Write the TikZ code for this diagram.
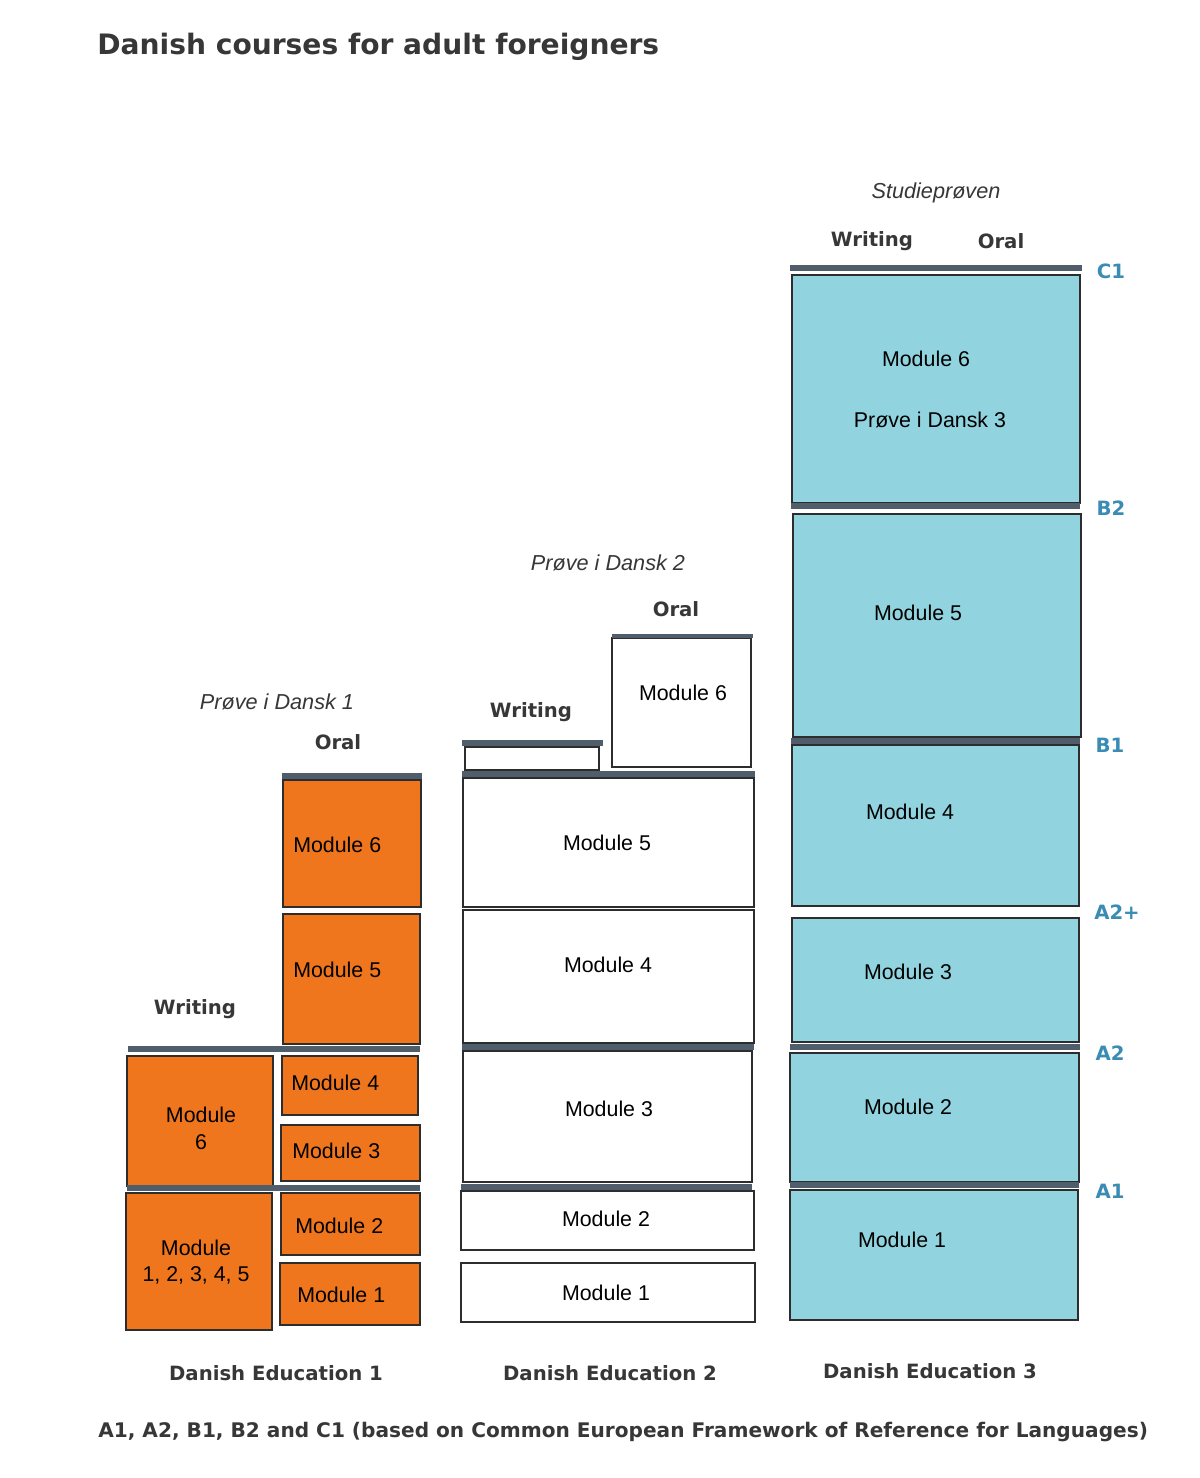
\documentclass[tikz,border=0pt]{standalone}
\usepackage{fontspec}
\setmainfont{Liberation Sans}
\newfontfamily\headfont{DejaVu Sans}
\usetikzlibrary{positioning}
\definecolor{orangefill}{RGB}{240,118,30}
\definecolor{cyanfill}{RGB}{145,212,224}
\definecolor{boxline}{RGB}{45,45,45}
\definecolor{barcol}{RGB}{80,93,106}
\definecolor{textgray}{RGB}{55,55,55}
\definecolor{levelblue}{RGB}{58,140,180}
\tikzstyle{obox} = [draw=boxline, line width=2pt, fill=orangefill]
\tikzstyle{wbox} = [draw=boxline, line width=2pt, fill=white]
\tikzstyle{cbox} = [draw=boxline, line width=2pt, fill=cyanfill]
\tikzstyle{bar} = [draw=barcol, line width=4.3pt]
\tikzstyle{modtext} = [font=\fontsize{15.2}{19}\selectfont, text=black, align=center, inner sep=0pt]
\tikzstyle{head} = [font=\headfont\bfseries\fontsize{14}{17}\selectfont, text=textgray, inner sep=0pt]
\tikzstyle{exam} = [font=\itshape\fontsize{15.4}{18}\selectfont, text=textgray, inner sep=0pt]
\tikzstyle{level} = [font=\headfont\bfseries\fontsize{14}{16}\selectfont, text=levelblue, inner sep=0pt]

\begin{document}
\begin{tikzpicture}[x=0.025cm, y=-0.025cm]
    \useasboundingbox (0,0) rectangle (1200,1478);
    \fill[white] (0,0) rectangle (1200,1478);
    \node(title)[font=\headfont\bfseries\fontsize{20}{24}\selectfont, text=textgray, anchor=west, inner sep=0pt] at (97,47) {Danish courses for adult foreigners};

    % Danish Education 1
    \draw[obox] (283,780) rectangle (421,907);
    \draw[obox] (283,914) rectangle (420,1044);
    \draw[obox] (127,1056) rectangle (273,1186);
    \draw[obox] (282,1056) rectangle (418,1115);
    \draw[obox] (281,1125) rectangle (420,1181);
    \draw[obox] (126,1193) rectangle (272,1330);
    \draw[obox] (281,1193) rectangle (420,1255);
    \draw[obox] (280,1263) rectangle (420,1325);
    \draw[bar] (282,776) -- (422,776);
    \draw[bar] (128,1049) -- (420,1049);
    \draw[bar] (127,1188) -- (420,1188);
    \node(deOneMsix)[modtext, anchor=west] at (293,845) {Module 6};
    \node(deOneMfive)[modtext, anchor=west] at (293,970) {Module 5};
    \node(deOneWsix)[modtext] at (201,1128) {Module\\6};
    \node(deOneMfour)[modtext, anchor=west] at (291,1083) {Module 4};
    \node(deOneMthree)[modtext, anchor=west] at (292,1151) {Module 3};
    \node(deOneWall)[modtext] at (196,1262) {Module\\1, 2, 3, 4, 5};
    \node(deOneMtwo)[modtext, anchor=west] at (295,1226) {Module 2};
    \node(deOneMone)[modtext, anchor=west] at (297,1295) {Module 1};
    \node(deOneExam)[exam] at (277,702) {Prøve i Dansk 1};
    \node(deOneOral)[head] at (338,742) {Oral};
    \node(deOneWriting)[head] at (195,1009) {Writing};
    \node(deOne)[head] at (276,1373) {Danish Education 1};

    % Danish Education 2
    \draw[wbox] (612,638) rectangle (751,767);
    \draw[wbox] (465,747) rectangle (599,770);
    \draw[wbox] (463,778) rectangle (754,907);
    \draw[wbox] (463,910) rectangle (754,1043);
    \draw[wbox] (463,1051) rectangle (752,1182);
    \draw[wbox] (461,1191) rectangle (754,1250);
    \draw[wbox] (461,1263) rectangle (755,1322);
    \draw[bar, line width=2.5pt] (612,636) -- (753,636);
    \draw[bar] (462,743) -- (603,743);
    \draw[bar] (462,774) -- (755,774);
    \draw[bar] (462,1047) -- (754,1047);
    \draw[bar] (461,1187) -- (752,1187);
    \node(deTwoMsix)[modtext] at (683,693) {Module 6};
    \node(deTwoMfive)[modtext] at (607,843) {Module 5};
    \node(deTwoMfour)[modtext] at (608,965) {Module 4};
    \node(deTwoMthree)[modtext] at (609,1109) {Module 3};
    \node(deTwoMtwo)[modtext] at (606,1219) {Module 2};
    \node(deTwoMone)[modtext] at (606,1293) {Module 1};
    \node(deTwoExam)[exam] at (608,563) {Prøve i Dansk 2};
    \node(deTwoOral)[head] at (676,609) {Oral};
    \node(deTwoWriting)[head] at (531,712) {Writing};
    \node(deTwo)[head] at (610,1373) {Danish Education 2};

    % Danish Education 3
    \draw[cbox] (792,275) rectangle (1080,503);
    \draw[cbox] (793,514) rectangle (1081,737);
    \draw[cbox] (792,745) rectangle (1079,906);
    \draw[cbox] (792,918) rectangle (1079,1042);
    \draw[cbox] (790,1053) rectangle (1079,1182);
    \draw[cbox] (790,1190) rectangle (1078,1320);
    \draw[bar] (790,268) -- (1082,268);
    \draw[bar] (791,506) -- (1080,506);
    \draw[bar] (791,741) -- (1080,741);
    \draw[bar] (790,1047) -- (1080,1047);
    \draw[bar] (790,1185) -- (1079,1185);
    \node(deThreeMsix)[modtext] at (926,359) {Module 6};
    \node(deThreeExam)[modtext] at (930,420) {Prøve i Dansk 3};
    \node(deThreeMfive)[modtext] at (918,613) {Module 5};
    \node(deThreeMfour)[modtext] at (910,812) {Module 4};
    \node(deThreeMthree)[modtext] at (908,972) {Module 3};
    \node(deThreeMtwo)[modtext] at (908,1107) {Module 2};
    \node(deThreeMone)[modtext] at (902,1240) {Module 1};
    \node(studie)[exam] at (936,193) {Studieprøven};
    \node(deThreeWriting)[head] at (872,241) {Writing};
    \node(deThreeOral)[head] at (1001,241) {Oral};
    \node(deThree)[head] at (930,1371) {Danish Education 3};

    % levels
    \node(lvCone)[level] at (1111,271) {C1};
    \node(lvBtwo)[level] at (1111,508) {B2};
    \node(lvBone)[level] at (1110,745) {B1};
    \node(lvAtwoplus)[level] at (1117,912) {A2+};
    \node(lvAtwo)[level] at (1110,1053) {A2};
    \node(lvAone)[level] at (1110,1191) {A1};

    \node(footnote)[head, font=\headfont\bfseries\fontsize{14.3}{17}\selectfont, anchor=west] at (98,1432) {A1, A2, B1, B2 and C1 (based on Common European Framework of Reference for Languages)};
\end{tikzpicture}
\end{document}
